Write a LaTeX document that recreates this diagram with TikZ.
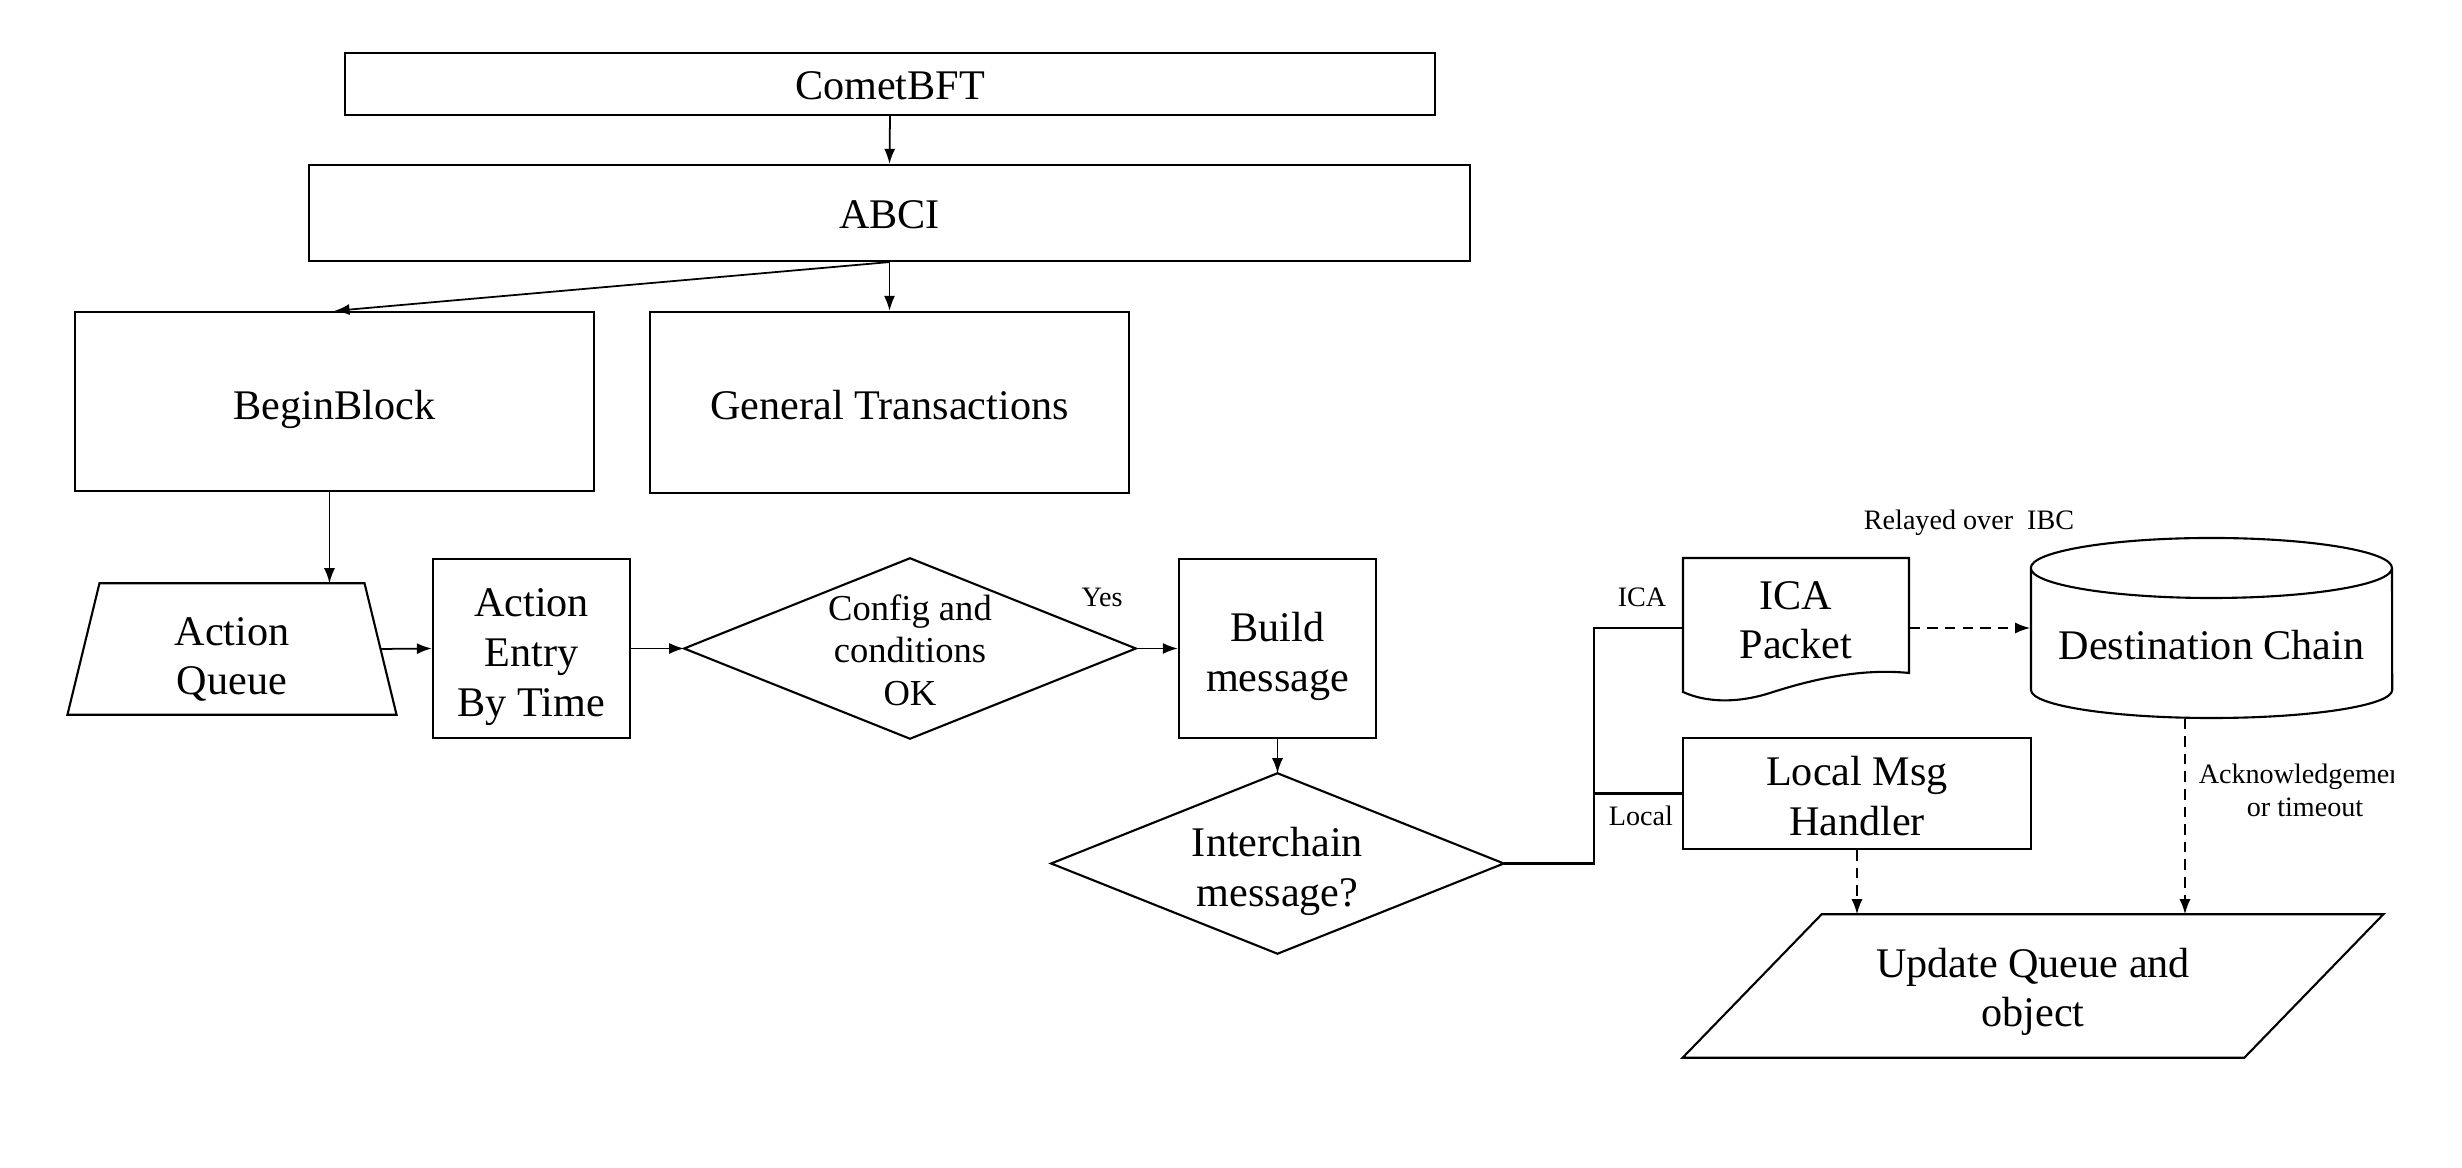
\documentclass[tikz,border=0pt]{standalone}
\usepackage{fontspec}
\setmainfont{Liberation Serif}
\usetikzlibrary{arrows.meta}
\newcommand\mainfs{\fontsize{12}{14.2}\selectfont}
\newcommand\cfgfs{\fontsize{10.4}{12.1}\selectfont}
\newcommand\smallfs{\fontsize{8}{9.4}\selectfont}
% text lowered by #1 without changing the node size
\newcommand\tx[2]{\raisebox{-#1}[\height][\depth]{\begin{tabular}{@{}c@{}}#2\end{tabular}}}
\tikzset{
 box/.style={draw, line width=0.6pt, inner sep=0pt, align=center, font=\mainfs},
 txt/.style={inner sep=0pt, align=center, font=\mainfs},
 lab/.style={inner sep=0pt, align=center, font=\smallfs},
 arr/.style={-{Latex[length=1.5mm,width=1.1mm]}, line width=0.5pt},
 dasharr/.style={arr, dash pattern=on 3pt off 2pt},
 conn/.style={line width=0.6pt},
 outline/.style={line width=0.6pt},
}
\begin{document}
\begin{tikzpicture}[x=0.01cm,y=-0.01cm]
\useasboundingbox (0,0) rectangle (2462,1168);
% top boxes
\node[box, minimum width=10.90cm, minimum height=0.62cm] (comet) at (890,84) {\tx{0.06cm}{CometBFT}};
\node[box, minimum width=11.61cm, minimum height=0.96cm] (abci) at (889.5,213) {\tx{0.06cm}{ABCI}};
\node[box, minimum width=5.19cm, minimum height=1.79cm] (bb) at (334.5,401.5) {\tx{0.08cm}{BeginBlock}};
\node[box, minimum width=4.79cm, minimum height=1.81cm] (gt) at (889.5,402.5) {\tx{0.07cm}{General Transactions}};
% action queue (trapezoid)
\node[txt, minimum width=2.955cm, minimum height=1.30cm] (aq) at (232,649) {\tx{0.11cm}{Action\\Queue}};
\draw[outline] ([xshift=0.16cm]aq.north west) -- ([xshift=-0.16cm]aq.north east) -- ([xshift=0.16cm]aq.south east) -- ([xshift=-0.16cm]aq.south west) -- cycle;
\node[box, minimum width=1.97cm, minimum height=1.79cm] (ae) at (531.5,648.5) {\tx{0.08cm}{Action\\Entry\\By Time}};
% config diamond
\node[txt, font=\cfgfs, minimum width=4.50cm, minimum height=1.79cm] (cfg) at (910,648.5) {\tx{0.06cm}{Config and\\conditions\\OK}};
\draw[outline] (cfg.north) -- (cfg.east) -- (cfg.south) -- (cfg.west) -- cycle;
\node[box, minimum width=1.97cm, minimum height=1.79cm] (bm) at (1277.5,648.5) {\tx{0.08cm}{Build\\message}};
% interchain diamond
\node[txt, minimum width=4.51cm, minimum height=1.79cm] (ic) at (1277.5,863.5) {\tx{0.08cm}{Interchain\\message?}};
\draw[outline] (ic.north) -- (ic.east) -- (ic.south) -- (ic.west) -- cycle;
% ICA packet (document)
\node[txt, minimum width=2.26cm, minimum height=1.40cm] (ica) at (1796,628) {\tx{-0.04cm}{ICA\\Packet}};
\draw[outline] (1683,692) -- (1683,558) -- (1909,558) -- (1909,673) .. controls (1860,668) and (1810,680) .. (1770,693) .. controls (1735,704) and (1705,702) .. (1683,692) -- cycle;
% destination chain (cylinder)
\node[inner sep=0pt, minimum width=3.61cm, minimum height=1.80cm] (dc) at (2211.5,628) {};
\node[txt] (dctxt) at (2211.5,645) {Destination Chain};
\draw[outline] (2031,568) -- (2031,690) arc[start angle=180, end angle=360, x radius=1.805cm, y radius=0.28cm] -- (2392,568) arc[start angle=0, end angle=360, x radius=1.805cm, y radius=0.30cm];
% local msg handler
\node[box, minimum width=3.48cm, minimum height=1.11cm] (lm) at (1857,793.5) {\tx{0.07cm}{Local Msg\\Handler}};
% update queue (parallelogram)
\node[txt, minimum width=5.60cm, minimum height=1.42cm] (uq) at (2033,986) {\tx{0.06cm}{Update Queue and\\object}};
\draw[outline] ([xshift=0.695cm]uq.north west) -- ([xshift=0.695cm]uq.north east) -- ([xshift=-0.695cm]uq.south east) -- ([xshift=-0.695cm]uq.south west) -- cycle;
% connectors
\draw[arr] (comet.south) -- (abci.north);
\draw[arr] (abci.south) -- (bb.north);
\draw[arr] (abci.south) -- (gt.north);
\draw[arr] ([xshift=-0.05cm]bb.south) -- ([xshift=-0.05cm]bb.south |- aq.north);
\draw[arr] (aq.east) -- (ae.west);
\draw[arr] (ae.east) -- (cfg.west);
\draw[arr] (cfg.east) -- (bm.west);
\draw[arr] (bm.south) -- (ic.north);
\coordinate (j) at (1594,863.5);
\draw[conn] (ic.east) -- (j) |- (ica.west);
\draw[conn] (j |- lm.west) -- (lm.west);
\draw[dasharr] (ica.east) -- (dc.west);
\draw[dasharr] (lm.south) -- (lm.south |- uq.north);
\draw[dasharr] ([xshift=-0.265cm]dc.south) -- ([xshift=-0.265cm]dc.south |- uq.north);
% labels
\node[lab] (yes) at (1102,597) {Yes};
\node[lab] (relay) at (1969,523) {Relayed over\ \ IBC};
\node[lab] (icalab) at (1642,597) {ICA};
\node[lab] (loclab) at (1641,816) {Local};
\begin{scope}
\clip (0,0) rectangle (2393,1168);
\node[lab] (ack) at (2305,790) {Acknowledgement\\or timeout};
\end{scope}
\end{tikzpicture}
\end{document}
